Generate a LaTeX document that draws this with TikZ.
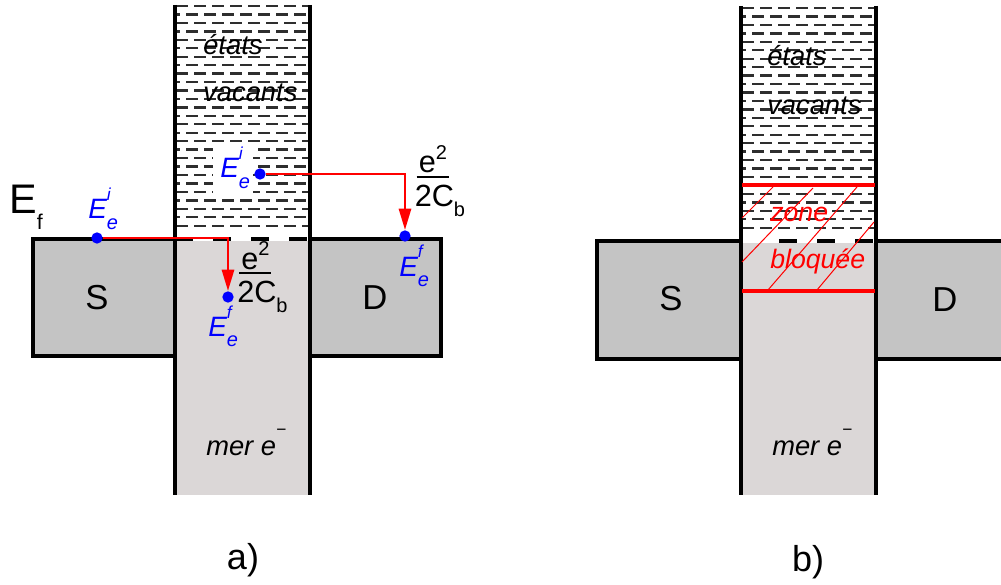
\documentclass[tikz,border=0pt]{standalone}
\usepackage{fontspec}
\setmainfont{Liberation Sans}
\usetikzlibrary{arrows.meta}
\definecolor{boxgray}{RGB}{196,196,196}
\definecolor{seagray}{RGB}{219,215,215}
\definecolor{eblue}{RGB}{0,0,255}
\newcommand\EEe[1]{\fontsize{21}{21}\selectfont\itshape E\rlap{\raisebox{13.5pt}{\fontsize{13}{13}\selectfont #1}}\raisebox{-8pt}{\fontsize{15}{15}\selectfont e}}
\tikzset{
  efrac/.pic={
    \node[anchor=base west,inner sep=0pt,font=\fontsize{23}{23}\selectfont] (-num) at (-14,-4) {e\raisebox{10pt}{\fontsize{15}{15}\selectfont 2}};
    \draw[line width=1.5pt] (-16,0) -- (16,0);
    \node[anchor=base west,inner sep=0pt,font=\fontsize{23}{23}\selectfont] (-den) at (-18,29) {2C\raisebox{-8pt}{\fontsize{15}{15}\selectfont b}};
  }
}
\begin{document}
\begin{tikzpicture}[x=0.75pt,y=-0.75pt,
  wall/.style={line width=2.5pt},
  boxst/.style={draw=black,line width=2.5pt,fill=boxgray},
  vac/.style={line width=1.75pt,black!82},
  edgeline/.style={line width=2.5pt,dash pattern=on 13.5pt off 15pt},
  hop/.style={red,line width=2.1pt,-{Triangle[length=16pt,width=9pt]}},
  edot/.style={circle,fill=eblue,inner sep=0pt,minimum size=8.5pt},
  txt/.style={anchor=base west,inner sep=0pt,font=\fontsize{20.5}{24}\selectfont\itshape},
  big/.style={inner sep=0pt,font=\fontsize{26}{26}\selectfont},
  elab/.style={anchor=base west,inner sep=0pt,text=eblue},
  zonelab/.style={anchor=base west,inner sep=0pt,text=red,font=\fontsize{20}{24}\selectfont\itshape},
  redbar/.style={red,line width=3pt},
  hatch/.style={red,line width=0.75pt}
]
\useasboundingbox (0,0) rectangle (1001,585);
\clip (0,0) rectangle (1001,585);

% ---------------- panel a ----------------
\fill[seagray] (175,240.5) rectangle (310,495);
\draw[boxst] (33,239) rectangle (175,356);
\draw[boxst] (310,239) rectangle (441,356);
\begin{scope}
  \clip (176.5,3) rectangle (308.5,230);
  \foreach \k in {0,...,26} {
    \pgfmathsetmacro\yy{6+8.45*\k}
    \pgfmathsetmacro\ph{mod(\k,2)*6}
    \draw[vac,dash pattern=on 9pt off 4.5pt,dash phase=\ph pt] (176,\yy) -- (310,\yy);
  }
\end{scope}
\fill[white] (213,145) rectangle (253,196);
\draw[edgeline] (175,239) -- (310,239);
\draw[wall] (175,5) -- (175,495);
\draw[wall] (310,5) -- (310,495);

\node[txt] (etA) at (203,55) {états};
\node[txt] (vaA) at (203,102) {vacants};

\node[edot] (a1) at (97,238) {};
\node[edot] (a2) at (228,297) {};
\node[edot] (a3) at (260,174) {};
\node[edot] (a4) at (405,236) {};
\draw[hop] (a1.east) -- (a1.east -| a2.center) -- (a2.north);
\draw[hop] (a3.east) -- (a3.east -| a4.center) -- (a4.north);

\node[elab] (ei1) at (88,219) {\EEe{i}};
\node[elab] (ei2) at (220,178) {\EEe{i}};
\node[elab] (ef1) at (208,336) {\EEe{f}};
\node[elab] (ef2) at (399,276) {\EEe{f}};

\pic (fr1) at (432.5,177) {efrac};
\pic (fr2) at (255,273) {efrac};

\node[anchor=base west,inner sep=0pt,font=\fontsize{31}{31}\selectfont] (Ef) at (9,214) {E\raisebox{-12pt}{\fontsize{16}{16}\selectfont f}};

\node[big] (S1) at (97,298) {S};
\node[big] (D1) at (375,298) {D};
\node[txt] (merA) at (206,455) {mer e\raisebox{15pt}{\fontsize{13}{13}\selectfont −}};

\node[inner sep=0pt,font=\fontsize{27}{27}\selectfont] (capa) at (243,560) {a)};

% ---------------- panel b ----------------
\fill[seagray] (741,242.5) rectangle (876,495);
\draw[boxst] (597,241) rectangle (741,359);
\draw[boxst] (876,241) rectangle (1010,359);
\begin{scope}
  \clip (742.5,3) rectangle (874.5,232);
  \foreach \k in {0,...,26} {
    \pgfmathsetmacro\yy{8+8.45*\k}
    \pgfmathsetmacro\ph{mod(\k,2)*6}
    \draw[vac,dash pattern=on 9pt off 4.5pt,dash phase=\ph pt] (742,\yy) -- (876,\yy);
  }
\end{scope}
\draw[edgeline] (779,241) -- (876,241);
\draw[wall] (741,6) -- (741,495);
\draw[wall] (876,6) -- (876,495);

\node[txt] (etB) at (767,66) {états};
\node[txt] (vaB) at (767,115) {vacants};

\draw[redbar] (742,185) -- (875,185);
\draw[redbar] (742,291) -- (875,291);
\draw[hatch] (742,218) -- (773,187);
\draw[hatch] (742,262) -- (813,188);
\draw[hatch] (768,290) -- (857,187);
\draw[hatch] (817,290) -- (874,222);
\node[zonelab] (zo) at (770,222) {zone};
\node[zonelab] (bl) at (770,268) {bloquée};

\node[big] (S2) at (671,299) {S};
\node[big] (D2) at (945,300) {D};
\node[txt] (merB) at (772,455) {mer e\raisebox{15pt}{\fontsize{13}{13}\selectfont −}};

\node[inner sep=0pt,font=\fontsize{27}{27}\selectfont] (capb) at (808,562) {b)};
\end{tikzpicture}
\end{document}
